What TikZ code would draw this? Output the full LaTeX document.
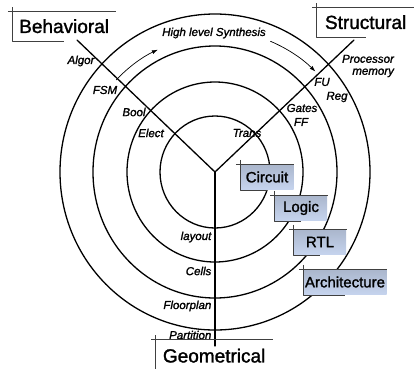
\documentclass[tikz,border=0pt]{standalone}
\usepackage{fontspec}
\setmainfont{Liberation Sans}
\newfontfamily\heavyfont[FakeBold=1.5]{Liberation Sans}
\usetikzlibrary{arrows.meta}

\definecolor{tagtop}{RGB}{170,182,204}
\definecolor{tagbottom}{RGB}{198,212,238}

\begin{document}
\begin{tikzpicture}[x=1pt, y=1pt, line width=1.3pt, line cap=round, line join=round,
    title/.style={font=\heavyfont\fontsize{19}{19}\selectfont, inner sep=0pt, anchor=north west, minimum height=29pt},
    level/.style={font=\heavyfont\fontsize{15}{15}\selectfont, inner sep=0pt, minimum height=25pt,
      top color=tagtop, bottom color=tagbottom},
    lab/.style={font=\heavyfont\fontsize{11.5}{12}\selectfont\itshape, inner sep=0pt},
    tagline/.style={line width=.6pt, draw=black!75, line cap=butt}]
  \useasboundingbox (-215,-196) rectangle (199,172);
  \coordinate (c) at (0,0);

  % the four abstraction rings
  \foreach \rx/\ry in {55/56, 88/90, 122/126, 155/158} {
    \draw (c) ellipse [x radius=\rx, y radius=\ry];
  }

  % the three domain axes
  \coordinate (beh) at (-138,132);
  \coordinate (str) at (139,132);
  \coordinate (geo) at (0,-174);
  \draw (c) -- (beh);
  \draw (c) -- (str);
  \draw (c) -- (geo);

  % synthesis arrows between the domains
  \begin{scope}[line width=.7pt, -{Latex[length=6pt,width=4pt]}]
    \draw (137:135) arc [start angle=137, end angle=115, radius=135];
    \draw (67:142) arc [start angle=67, end angle=45, radius=142];
  \end{scope}
  \node[lab] (hls) at (-1,139) {High level Synthesis};

  % behavioral domain
  \node[lab] (algor) at (-134,111) {Algor};
  \node[lab] (fsm) at (-110,82) {FSM};
  \node[lab] (bool) at (-81,60) {Bool};
  \node[lab] (elect) at (-64,39) {Elect};

  % structural domain
  \node[lab] (trans) at (32,39) {Trans};
  \node[lab] (gates) at (87,64) {Gates};
  \node[lab] (ff) at (86,50) {FF};
  \node[lab] (fu) at (107,90) {FU};
  \node[lab] (reg) at (122,75) {Reg};
  \node[lab, align=right] (proc) at (153,106) {Processor\\memory};

  % geometrical domain
  \node[lab, anchor=east] (layout) at (-3,-65) {layout};
  \node[lab, anchor=east] (cells) at (-3,-99) {Cells};
  \node[lab, anchor=east] (floor) at (-3,-134) {Floorplan};
  \node[lab, anchor=east] (part) at (-3,-163) {Partition};

  % domain titles
  \node[title, minimum width=103pt] (behav) at (-203,161) {Behavioral};
  \node[title, minimum width=98pt] (struct) at (101,165) {Structural};
  \node[title, minimum width=117pt, minimum height=32pt] (geom) at (-60,-167) {Geometrical};

  % level tags
  \node[level, minimum width=53pt] (circuit) at (52,-5) {Circuit};
  \node[level, minimum width=52pt] (logic) at (86,-36) {Logic};
  \node[level, minimum width=52pt] (rtl) at (105,-70) {RTL};
  \node[level, minimum width=83pt] (arch) at (130,-110) {Architecture};

  % bracket edges of the tags
  \foreach \n in {behav, struct, geom, circuit, logic, rtl, arch} {
    \draw[tagline] ([xshift=-4pt]\n.north west) -- (\n.north east);
    \draw[tagline] ([yshift=4pt]\n.north west) -- (\n.south west) -- (\n.south);
  }
\end{tikzpicture}
\end{document}
